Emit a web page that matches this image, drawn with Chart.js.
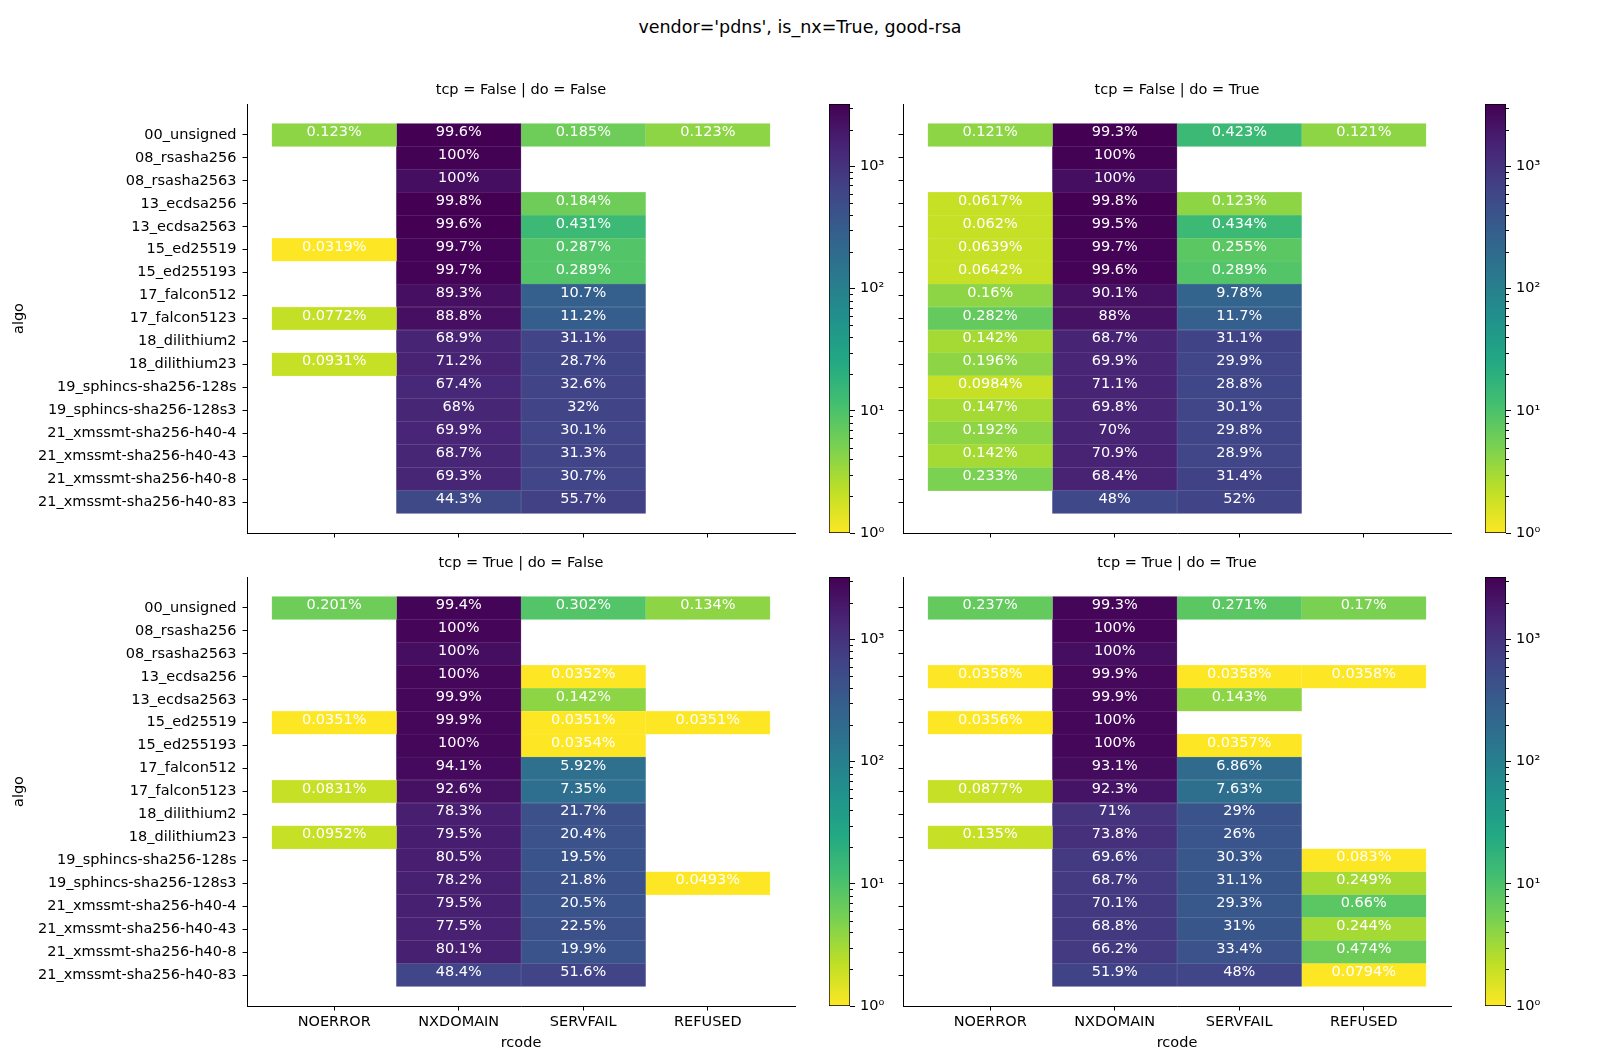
<!DOCTYPE html>
<html>
<head>
<meta charset="utf-8">
<script src="https://cdn.jsdelivr.net/npm/chart.js@4.4.0/dist/chart.umd.min.js"></script>
<style>
  body { margin: 0; background: #fff; }
  #fig { position: relative; width: 1600px; height: 1064px; overflow: hidden; }
  #fig canvas { position: absolute; }
  #suptitle { position: absolute; left: 0; top: 17px; width: 1600px; text-align: center;
              font: 17.5px 'DejaVu Sans', sans-serif; line-height: 21px; color: #000; }
</style>
</head>
<body>
<div id="fig"><div id="suptitle">vendor='pdns', is_nx=True, good-rsa</div></div>
<script>
const algos = ['00_unsigned', '08_rsasha256', '08_rsasha2563', '13_ecdsa256', '13_ecdsa2563',
  '15_ed25519', '15_ed255193', '17_falcon512', '17_falcon5123', '18_dilithium2', '18_dilithium23',
  '19_sphincs-sha256-128s', '19_sphincs-sha256-128s3', '21_xmssmt-sha256-h40-4',
  '21_xmssmt-sha256-h40-43', '21_xmssmt-sha256-h40-8', '21_xmssmt-sha256-h40-83'];
const rcodes = ['NOERROR', 'NXDOMAIN', 'SERVFAIL', 'REFUSED'];
const colorMax = 3250;   // top of the colour bar
const cbTicks = [1, 10, 100, 1000];

// tcp = False | do = False  (percent of row; totals = approx. queries per row)
const ffNoerror  = [0.123, null, null, null, null, 0.0319, null, null, 0.0772, null, 0.0931, null, null, null, null, null, null];
const ffNxdomain = [99.6, 100, 100, 99.8, 99.6, 99.7, 99.7, 89.3, 88.8, 68.9, 71.2, 67.4, 68, 69.9, 68.7, 69.3, 44.3];
const ffServfail = [0.185, null, null, 0.184, 0.431, 0.287, 0.289, 10.7, 11.2, 31.1, 28.7, 32.6, 32, 30.1, 31.3, 30.7, 55.7];
const ffRefused  = [0.123, null, null, null, null, null, null, null, null, null, null, null, null, null, null, null, null];
const ffTotals   = [3250, 3200, 2400, 3260, 3250, 3135, 3110, 2650, 2650, 2100, 2150, 2000, 2000, 2000, 2000, 2000, 1240];

// tcp = False | do = True
const ftNoerror  = [0.121, null, null, 0.0617, 0.062, 0.0639, 0.0642, 0.16, 0.282, 0.142, 0.196, 0.0984, 0.147, 0.192, 0.142, 0.233, null];
const ftNxdomain = [99.3, 100, 100, 99.8, 99.5, 99.7, 99.6, 90.1, 88, 68.7, 69.9, 71.1, 69.8, 70, 70.9, 68.4, 48];
const ftServfail = [0.423, null, null, 0.123, 0.434, 0.255, 0.289, 9.78, 11.7, 31.1, 29.9, 28.8, 30.1, 29.8, 28.9, 31.4, 52];
const ftRefused  = [0.121, null, null, null, null, null, null, null, null, null, null, null, null, null, null, null, null];
const ftTotals   = [3300, 3200, 2400, 3240, 3225, 3130, 3115, 2500, 2480, 2110, 2040, 2030, 2040, 2080, 2110, 2145, 1200];

// tcp = True | do = False
const tfNoerror  = [0.201, null, null, null, null, 0.0351, null, null, 0.0831, null, 0.0952, null, null, null, null, null, null];
const tfNxdomain = [99.4, 100, 100, 100, 99.9, 99.9, 100, 94.1, 92.6, 78.3, 79.5, 80.5, 78.2, 79.5, 77.5, 80.1, 48.4];
const tfServfail = [0.302, null, null, 0.0352, 0.142, 0.0351, 0.0354, 5.92, 7.35, 21.7, 20.4, 19.5, 21.8, 20.5, 22.5, 19.9, 51.6];
const tfRefused  = [0.134, null, null, null, null, 0.0351, null, null, null, null, null, null, 0.0493, null, null, null, null];
const tfTotals   = [2985, 2900, 2400, 2840, 2816, 2849, 2825, 2800, 2407, 2100, 2100, 2050, 2028, 2000, 2000, 2000, 1250];

// tcp = True | do = True
const ttNoerror  = [0.237, null, null, 0.0358, null, 0.0356, null, null, 0.0877, null, 0.135, null, null, null, null, null, null];
const ttNxdomain = [99.3, 100, 100, 99.9, 99.9, 100, 100, 93.1, 92.3, 71, 73.8, 69.6, 68.7, 70.1, 68.8, 66.2, 51.9];
const ttServfail = [0.271, null, null, 0.0358, 0.143, null, 0.0357, 6.86, 7.63, 29, 26, 30.3, 31.1, 29.3, 31, 33.4, 48];
const ttRefused  = [0.17, null, null, 0.0358, null, null, null, null, null, null, null, 0.083, 0.249, 0.66, 0.244, 0.474, 0.0794];
const ttTotals   = [2950, 2900, 2400, 2793, 2797, 2809, 2801, 2800, 2280, 1400, 1480, 1205, 1205, 1212, 1230, 1266, 1259];

Chart.defaults.font.family = "'DejaVu Sans', sans-serif";
Chart.defaults.font.size = 14.5;
Chart.defaults.color = '#000';

// viridis, 11 stops
const viridisStops = [[68,1,84],[72,36,117],[65,68,135],[53,95,141],[42,120,142],[33,145,140],
  [34,168,132],[68,191,112],[122,209,81],[189,223,38],[253,231,37]];

function viridis(t) {
  t = Math.max(0, Math.min(1, t)) * 10;
  const i = Math.min(9, Math.floor(t)), f = t - i;
  const a = viridisStops[i], b = viridisStops[i + 1];
  return a.map((v, k) => Math.round(v + (b[k] - v) * f));
}
function rgb(c) { return 'rgb(' + c.join(',') + ')'; }

function cellRgb(pct, total) {
  const count = Math.max(pct * total / 100, 1);
  const t = Math.min(Math.log10(count) / Math.log10(colorMax), 1);
  return viridis(1 - t);   // viridis_r
}

const fig = document.getElementById('fig');
function addCanvas(left, top, width, height) {
  const c = document.createElement('canvas');
  c.width = Math.round(width);
  c.height = Math.round(height);
  c.style.left = Math.round(left) + 'px';
  c.style.top = Math.round(top) + 'px';
  fig.appendChild(c);
  return c;
}

// percentages written in the cells + facet title above the axes
const annotate = {
  id: 'annotate',
  afterDatasetsDraw(chart) {
    const ctx = chart.ctx;
    ctx.save();
    ctx.fillStyle = '#fff';
    ctx.font = "14.5px 'DejaVu Sans'";
    ctx.textAlign = 'center';
    ctx.textBaseline = 'alphabetic';
    chart.data.datasets.forEach((ds, i) => {
      chart.getDatasetMeta(i).data.forEach((bar, j) => {
        const p = bar.getCenterPoint();
        ctx.fillText(ds.data[j].pct + '%', p.x, p.y + 1);
      });
    });
    const a = chart.chartArea;
    ctx.fillStyle = '#000';
    ctx.textBaseline = 'middle';
    ctx.fillText(chart.options.facetTitle, (a.left + a.right) / 2, a.top - 13.3);
    ctx.restore();
  }
};

function heatmap(ax, title, cols, totals, showX, showY) {
  const cv = addCanvas(ax.left - 240, ax.top - 32, ax.right - ax.left + 250, ax.bottom - ax.top + 82);
  const datasets = cols.map((vals, c) => ({
    data: vals.map((v, r) => v == null ? null : {y: r, x: [c - 0.5, c + 0.5], pct: v, total: totals[r]})
              .filter(d => d),
    backgroundColor: ctx => rgb(cellRgb(ctx.raw.pct, ctx.raw.total)),
    borderColor: ctx => rgb(cellRgb(ctx.raw.pct, ctx.raw.total).map(v => Math.round(v + (255 - v) * 0.22))),
    borderWidth: 0.5,
    borderSkipped: false,
    barPercentage: 1,
    categoryPercentage: 1,
    grouped: false
  }));
  new Chart(cv, {
    type: 'bar',
    data: {datasets: datasets},
    options: {
      facetTitle: title,
      indexAxis: 'y',
      responsive: false,
      animation: false,
      layout: {padding: {top: 32, right: 10}},
      plugins: {legend: {display: false}, tooltip: {enabled: false}},
      scales: {
        x: {
          type: 'linear', min: -0.7, max: 3.7, offset: false,
          afterBuildTicks: s => { s.ticks = rcodes.map((_, i) => ({value: i})); },
          afterFit: s => { s.height = 50; },
          ticks: {callback: v => showX ? rcodes[v] : '', padding: 3, autoSkip: false, maxRotation: 0},
          grid: {offset: false, drawOnChartArea: false, tickLength: 4.5, tickColor: '#000'},
          border: {color: '#000', width: 1},
          title: {display: showX, text: 'rcode', color: '#000', padding: {top: 0, bottom: 4}}
        },
        y: {
          type: 'linear', reverse: true, min: -1.35, max: 17.35, offset: false,
          afterBuildTicks: s => { s.ticks = algos.map((_, i) => ({value: i})); },
          afterFit: s => { s.width = 240; },
          ticks: {callback: v => showY ? algos[v] : '', padding: 6, autoSkip: false},
          grid: {offset: false, drawOnChartArea: false, tickLength: 4.5, tickColor: '#000'},
          border: {color: '#000', width: 1},
          title: {display: showY, text: 'algo', color: '#000', padding: {top: 3.5, bottom: 0}}
        }
      }
    },
    plugins: [annotate]
  });
}

const sup = ['\u2070', '\u00b9', '\u00b2', '\u00b3'];
const minorTicks = {
  id: 'minorTicks',
  afterDraw(chart) {
    const s = chart.scales.y, ctx = chart.ctx;
    ctx.save();
    ctx.strokeStyle = '#000';
    ctx.lineWidth = 1;
    ctx.beginPath();
    for (let k = 0; k < 4; k++) {
      for (let m = 2; m < 10; m++) {
        const v = m * Math.pow(10, k);
        if (v > colorMax) continue;
        const py = Math.round(s.getPixelForValue(v)) + 0.5;
        ctx.moveTo(s.left, py);
        ctx.lineTo(s.left + 3, py);
      }
    }
    ctx.stroke();
    ctx.restore();
  }
};

function colorbar(ax) {
  const cv = addCanvas(ax.left - 5, ax.top - 20, ax.right - ax.left + 65, ax.bottom - ax.top + 40);
  let grad = null;
  new Chart(cv, {
    type: 'bar',
    data: {
      labels: [''],
      datasets: [{
        data: [[1, colorMax]],
        backgroundColor: ctx => {
          const a = ctx.chart.chartArea;
          if (!a) return '#fff';
          if (!grad) {
            grad = ctx.chart.ctx.createLinearGradient(0, a.bottom, 0, a.top);
            viridisStops.forEach((c, i) => grad.addColorStop(i / 10, rgb(viridisStops[10 - i])));
          }
          return grad;
        },
        borderColor: '#000',
        borderWidth: 1,
        borderSkipped: false,
        barPercentage: 1,
        categoryPercentage: 1
      }]
    },
    options: {
      responsive: false,
      animation: false,
      layout: {padding: {left: 5, top: 20, bottom: 20}},
      plugins: {legend: {display: false}, tooltip: {enabled: false}},
      scales: {
        x: {display: false},
        y: {
          type: 'logarithmic', position: 'right', min: 1, max: colorMax,
          afterBuildTicks: s => { s.ticks = cbTicks.map(v => ({value: v})); },
          afterFit: s => { s.width = 60; },
          ticks: {callback: v => '10' + sup[Math.round(Math.log10(v))], padding: 5, autoSkip: false},
          grid: {drawOnChartArea: false, tickLength: 5, tickColor: '#000'},
          border: {display: false}
        }
      }
    },
    plugins: [minorTicks]
  });
}

const topRow = {top: 104, bottom: 533};
const botRow = {top: 577, bottom: 1006};
const leftCol = {left: 247, right: 795};
const rightCol = {left: 903, right: 1451};

heatmap(Object.assign({}, leftCol, topRow), 'tcp = False | do = False',
  [ffNoerror, ffNxdomain, ffServfail, ffRefused], ffTotals, false, true);
heatmap(Object.assign({}, rightCol, topRow), 'tcp = False | do = True',
  [ftNoerror, ftNxdomain, ftServfail, ftRefused], ftTotals, false, false);
heatmap(Object.assign({}, leftCol, botRow), 'tcp = True | do = False',
  [tfNoerror, tfNxdomain, tfServfail, tfRefused], tfTotals, true, true);
heatmap(Object.assign({}, rightCol, botRow), 'tcp = True | do = True',
  [ttNoerror, ttNxdomain, ttServfail, ttRefused], ttTotals, true, false);

colorbar({left: 829, right: 850, top: 104, bottom: 533});
colorbar({left: 1485, right: 1506, top: 104, bottom: 533});
colorbar({left: 829, right: 850, top: 577, bottom: 1006});
colorbar({left: 1485, right: 1506, top: 577, bottom: 1006});
</script>
</body>
</html>
